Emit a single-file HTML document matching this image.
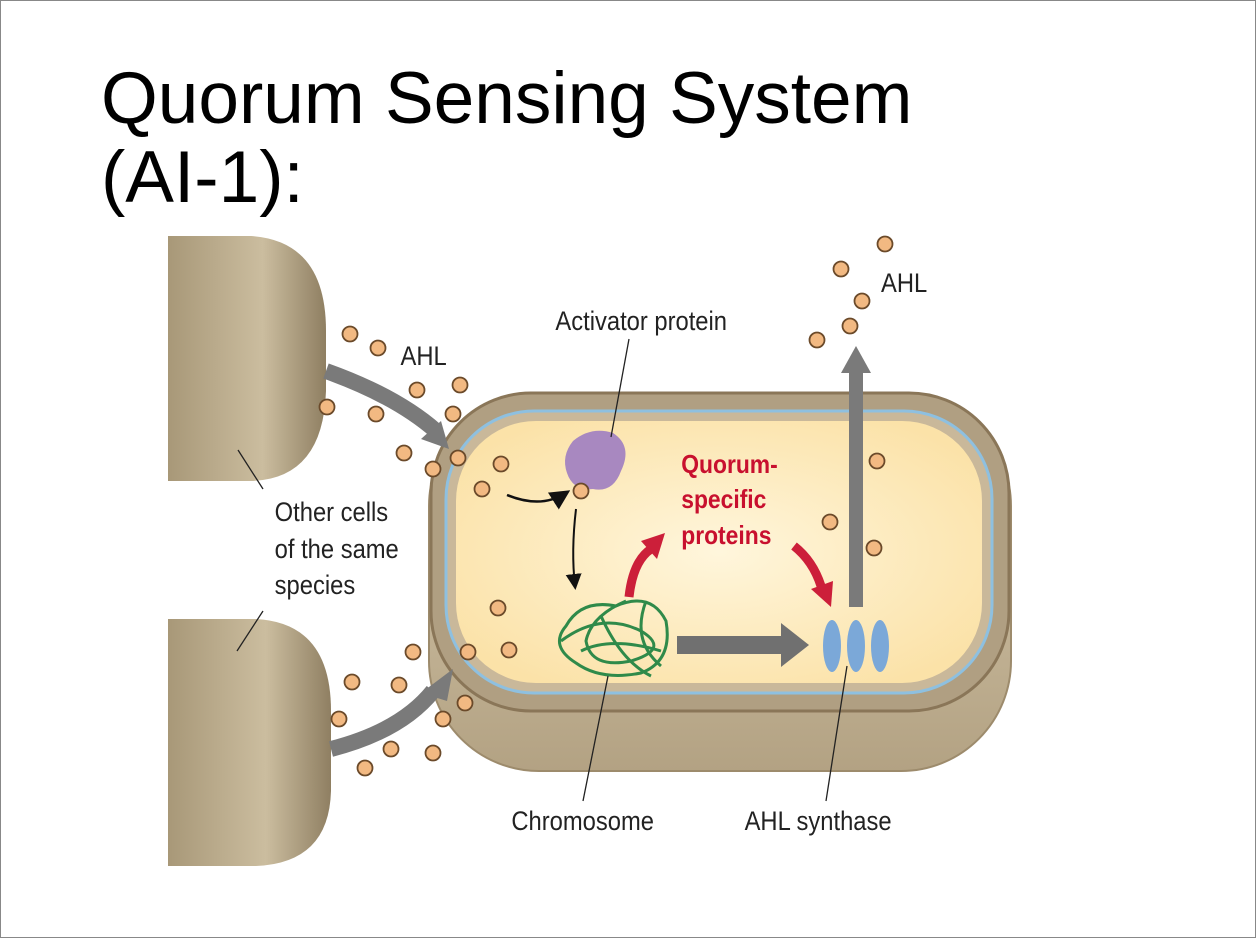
<!DOCTYPE html>
<html><head><meta charset="utf-8"><style>
html,body{margin:0;padding:0;background:#fff}
.page{position:relative;width:1254px;height:936px;border:1px solid #888;background:#fff;overflow:hidden}
svg{position:absolute;left:0;top:0}
</style></head><body><div class="page">
<svg width="1256" height="938" viewBox="0 0 1256 938" font-family="Liberation Sans, sans-serif">
<defs>
<linearGradient id="cellg" x1="0" y1="0" x2="1" y2="0">
<stop offset="0" stop-color="#a89878"/><stop offset="0.6" stop-color="#cbbd9f"/><stop offset="1" stop-color="#8f7f62"/></linearGradient>
<linearGradient id="botg" x1="0" y1="0" x2="0" y2="1">
<stop offset="0" stop-color="#d9ccb0"/><stop offset="1" stop-color="#b3a283"/></linearGradient>
<radialGradient id="yel" cx="0.5" cy="0.5" r="0.6">
<stop offset="0" stop-color="#fff6dc"/><stop offset="1" stop-color="#fbe2a8"/></radialGradient>
<marker id="ah" markerWidth="8" markerHeight="8" refX="6" refY="4" orient="auto"><path d="M0,0 L8,4 L0,8 Z" fill="#111"/></marker>
</defs>
<text x="100" y="122" font-size="73" fill="#000">Quorum Sensing System</text>
<text x="100" y="201" font-size="73" fill="#000">(AI-1):</text>
<!-- left cells -->
<path d="M167,235 L250,235 Q325,240 325,330 L325,390 Q322,478 250,480 L167,480 Z" fill="url(#cellg)"/>
<path d="M167,618 L255,618 Q330,622 330,710 L330,790 Q328,862 255,865 L167,865 Z" fill="url(#cellg)"/>
<!-- main cell -->
<rect x="428" y="395" width="582" height="375" rx="110" fill="url(#botg)" stroke="#9d8b6c" stroke-width="2"/>
<rect x="430" y="392" width="578" height="318" rx="100" fill="#b09f82" stroke="#8a7658" stroke-width="3"/>
<rect x="445" y="410" width="546" height="282" rx="88" fill="#c9b89a" stroke="#8ec0e0" stroke-width="3"/>
<rect x="455" y="420" width="526" height="262" rx="80" fill="url(#yel)"/>
<!-- grey arrows -->
<path d="M325,370 Q395,395 435,430" stroke="#7a7a7a" stroke-width="16" fill="none"/>
<path d="M420,438 L448,448 L440,420 Z" fill="#7a7a7a"/>
<path d="M330,748 Q400,730 432,690" stroke="#7a7a7a" stroke-width="16" fill="none"/>
<path d="M420,692 L452,668 L446,700 Z" fill="#7a7a7a"/>
<rect x="676" y="635" width="110" height="18" fill="#707070"/>
<path d="M780,622 L808,644 L780,666 Z" fill="#707070"/>
<rect x="848" y="370" width="14" height="236" fill="#7a7a7a"/>
<path d="M840,372 L855,345 L870,372 Z" fill="#7a7a7a"/>
<!-- activator -->
<path d="M572,440 Q590,425 612,432 Q632,445 620,470 Q612,492 592,488 Q572,490 566,472 Q560,455 572,440 Z" fill="#a888c0"/>
<path d="M506,494 Q540,508 565,492" stroke="#111" stroke-width="2.5" fill="none" marker-end="url(#ah)"/>
<path d="M575,508 Q570,550 574,585" stroke="#111" stroke-width="2" fill="none" marker-end="url(#ah)"/>
<!-- chromosome -->
<g stroke="#2f8a4a" stroke-width="3" fill="none">
<path d="M565,625 Q580,598 615,605 Q650,590 665,620 Q672,660 640,672 Q600,680 575,662 Q548,645 565,625 Z"/>
<path d="M560,640 Q600,610 640,630 Q670,648 630,660 Q590,668 585,640 Q590,615 625,600"/>
<path d="M580,650 Q610,635 660,650 M600,615 Q620,660 650,675 M645,600 Q630,640 660,665"/>
</g>
<!-- red arrows -->
<path d="M628,596 Q632,560 650,548" stroke="#cc1f3a" stroke-width="9" fill="none"/>
<path d="M640,540 L664,532 L656,558 Z" fill="#cc1f3a"/>
<path d="M793,545 Q812,560 820,585" stroke="#cc1f3a" stroke-width="9" fill="none"/>
<path d="M810,588 L830,606 L832,580 Z" fill="#cc1f3a"/>
<!-- synthase -->
<g fill="#7ba8d8"><ellipse cx="831" cy="645" rx="9" ry="26"/><ellipse cx="855" cy="645" rx="9" ry="26"/><ellipse cx="879" cy="645" rx="9" ry="26"/></g>
<!-- leader lines -->
<g stroke="#222" stroke-width="1.3">
<line x1="628" y1="338" x2="610" y2="436"/>
<line x1="237" y1="449" x2="262" y2="488"/>
<line x1="262" y1="610" x2="236" y2="650"/>
<line x1="607" y1="675" x2="582" y2="800"/>
<line x1="846" y1="665" x2="825" y2="800"/>
</g>
<!-- dots -->
<g fill="#f2b982" stroke="#6b4a2a" stroke-width="1.8">
<circle cx="349" cy="333" r="7.5"/><circle cx="377" cy="347" r="7.5"/><circle cx="416" cy="389" r="7.5"/><circle cx="459" cy="384" r="7.5"/><circle cx="326" cy="406" r="7.5"/><circle cx="375" cy="413" r="7.5"/><circle cx="452" cy="413" r="7.5"/><circle cx="403" cy="452" r="7.5"/><circle cx="432" cy="468" r="7.5"/><circle cx="457" cy="457" r="7.5"/><circle cx="481" cy="488" r="7.5"/><circle cx="500" cy="463" r="7.5"/><circle cx="580" cy="490" r="7.5"/><circle cx="876" cy="460" r="7.5"/><circle cx="829" cy="521" r="7.5"/><circle cx="873" cy="547" r="7.5"/><circle cx="497" cy="607" r="7.5"/><circle cx="467" cy="651" r="7.5"/><circle cx="508" cy="649" r="7.5"/><circle cx="412" cy="651" r="7.5"/><circle cx="351" cy="681" r="7.5"/><circle cx="398" cy="684" r="7.5"/><circle cx="338" cy="718" r="7.5"/><circle cx="442" cy="718" r="7.5"/><circle cx="464" cy="702" r="7.5"/><circle cx="390" cy="748" r="7.5"/><circle cx="364" cy="767" r="7.5"/><circle cx="432" cy="752" r="7.5"/><circle cx="884" cy="243" r="7.5"/><circle cx="840" cy="268" r="7.5"/><circle cx="861" cy="300" r="7.5"/><circle cx="849" cy="325" r="7.5"/><circle cx="816" cy="339" r="7.5"/>
</g>
<!-- labels -->
<g fill="#222" font-size="27" transform="scale(0.88,1)">
<text x="454" y="364">AHL</text>
<text x="1000" y="291">AHL</text>
<text x="630" y="329">Activator protein</text>
<text x="311" y="520">Other cells</text>
<text x="311" y="557">of the same</text>
<text x="311" y="593">species</text>
<text x="580" y="829">Chromosome</text>
<text x="845" y="829">AHL synthase</text>
</g>
<g fill="#c8102e" font-size="26" font-weight="bold" transform="scale(0.88,1)">
<text x="773" y="472">Quorum-</text>
<text x="773" y="507">specific</text>
<text x="773" y="543">proteins</text>
</g>
</svg></div></body></html>
